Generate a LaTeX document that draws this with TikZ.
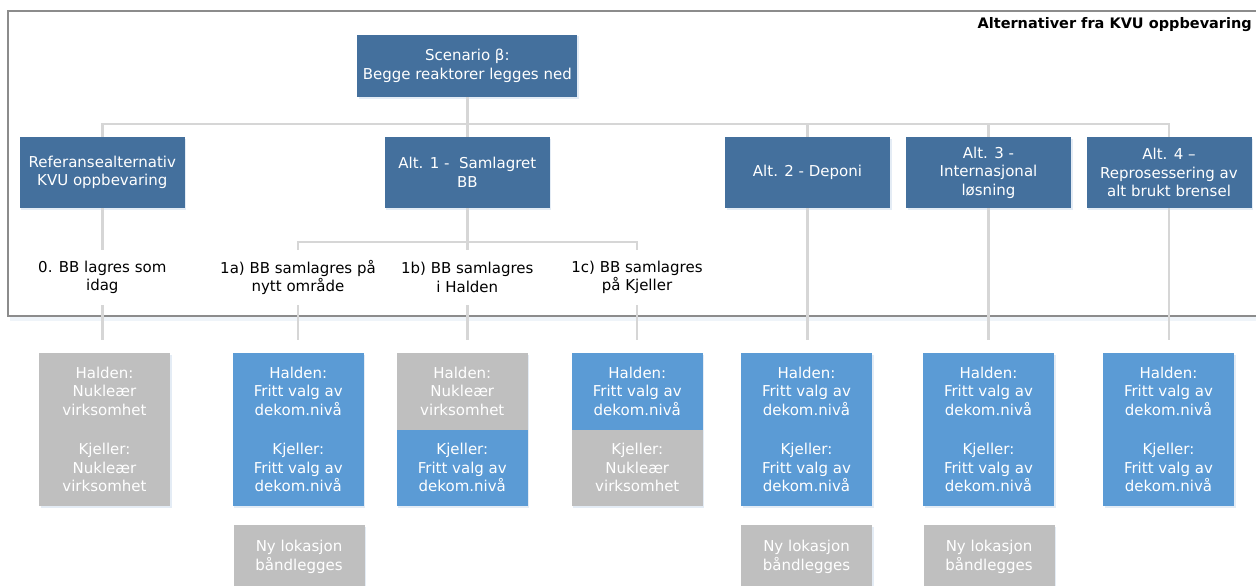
\documentclass[tikz,border=0pt]{standalone}
\usepackage{fontspec}
\setmainfont{DejaVu Sans}
\usetikzlibrary{shadows}
\definecolor{dkblue}{HTML}{44709D}
\definecolor{ltblue}{HTML}{5B9BD5}
\definecolor{grbox}{HTML}{BFBFBF}
\definecolor{connc}{HTML}{D6D6D6}
\definecolor{framec}{HTML}{8C8C8C}
\definecolor{shadc}{HTML}{E4ECF5}
\begin{document}
\begin{tikzpicture}[x=1pt,y=-1pt,
  base/.style={inner sep=0pt, align=center, text=white, font=\fontsize{15}{18.5}\selectfont,
    drop shadow={shadow xshift=1.5pt, shadow yshift=-1.5pt, fill=shadc, opacity=1}},
  dark/.style={base, fill=dkblue, minimum width=165pt, minimum height=71pt},
  scen/.style={base, fill=dkblue, minimum width=220pt, minimum height=62pt},
  half/.style={base, minimum width=131pt, minimum height=76.5pt},
  bl/.style={half, fill=ltblue},
  gr/.style={half, fill=grbox},
  ny/.style={base, fill=grbox, minimum width=131pt, minimum height=64pt},
  lbl/.style={inner sep=0pt, align=center, text=black, font=\fontsize{15}{18.5}\selectfont, minimum height=55pt},
  conn/.style={draw=connc, line width=2.5pt},
  title/.style={inner sep=0pt, font=\fontsize{14.5}{16}\selectfont\bfseries, text=black}
]
\useasboundingbox (0,0) rectangle (1256,586);
% frame
\fill[shadc!60] (10,317) rectangle (1260,321);
\draw[framec, line width=1.2pt, fill=white] (8,11) rectangle (1262,316);
\node[title, anchor=east] (ttl) at (1252,25) {Alternativer fra KVU oppbevaring};

% level 0
\node[scen] (sc) at (467.3,66) {Scenario β:\\Begge reaktorer legges ned};
% level 1
\node[dark] (ref) at (102.3,172.5) {Referansealternativ\\KVU oppbevaring};
\node[dark] (a1) at (467.3,172.5) {Alt. 1 -~ Samlagret\\BB};
\node[dark] (a2) at (807.5,172.5) {Alt. 2 - Deponi};
\node[dark] (a3) at (988.5,172.5) {Alt. 3 -\\Internasjonal\\løsning};
\node[dark] (a4) at (1169,172.5) {Alt. 4 –\\Reprosessering av\\alt brukt brensel};
% level 2
\node[lbl] (t0) at (102.3,277.5) {0. BB lagres som\\idag};
\node[lbl] (t1a) at (298,277.5) {1a) BB samlagres på\\nytt område};
\node[lbl] (t1b) at (467.3,277.5) {1b) BB samlagres\\i Halden};
\node[lbl] (t1c) at (637,277.5) {1c) BB samlagres\\på Kjeller};

% connectors level 0 -> 1
\draw[conn] (sc.south) -- ++(0,27) -| (ref.north);
\draw[conn] (sc.south) -- (a1.north);
\draw[conn] (sc.south) -- ++(0,27) -| (a2.north);
\draw[conn] (sc.south) -- ++(0,27) -| (a3.north);
\draw[conn] (sc.south) -- ++(0,27) -| (a4.north);
% level 1 -> 2
\draw[conn] (ref.south) -- (t0.north);
\draw[conn] (a1.south) -- ++(0,34) -| (t1a.north);
\draw[conn] (a1.south) -- (t1b.north);
\draw[conn] (a1.south) -- ++(0,34) -| (t1c.north);
% down to level 3
\draw[conn] (t0.south) -- ++(0,34.5);
\draw[conn] (t1a.south) -- ++(0,34.5);
\draw[conn] (t1b.south) -- ++(0,34.5);
\draw[conn] (t1c.south) -- ++(0,34.5);
\draw[conn] (a2.south) -- ++(0,131.5);
\draw[conn] (a3.south) -- ++(0,131.5);
\draw[conn] (a4.south) -- ++(0,131.5);

% level 3 boxes
\node[gr] (h0) at (104.5,391.25) {Halden:\\Nukleær\\virksomhet};
\node[gr] (k0) at (104.5,467.75) {Kjeller:\\Nukleær\\virksomhet};
\node[bl] (h1a) at (298.3,391.25) {Halden:\\Fritt valg av\\dekom.nivå};
\node[bl] (k1a) at (298.3,467.75) {Kjeller:\\Fritt valg av\\dekom.nivå};
\node[gr] (h1b) at (462.3,391.25) {Halden:\\Nukleær\\virksomhet};
\node[bl] (k1b) at (462.3,467.75) {Kjeller:\\Fritt valg av\\dekom.nivå};
\node[bl] (h1c) at (637.3,391.25) {Halden:\\Fritt valg av\\dekom.nivå};
\node[gr] (k1c) at (637.3,467.75) {Kjeller:\\Nukleær\\virksomhet};
\node[bl] (h2) at (806.5,391.25) {Halden:\\Fritt valg av\\dekom.nivå};
\node[bl] (k2) at (806.5,467.75) {Kjeller:\\Fritt valg av\\dekom.nivå};
\node[bl] (h3) at (988.5,391.25) {Halden:\\Fritt valg av\\dekom.nivå};
\node[bl] (k3) at (988.5,467.75) {Kjeller:\\Fritt valg av\\dekom.nivå};
\node[bl] (h4) at (1168.5,391.25) {Halden:\\Fritt valg av\\dekom.nivå};
\node[bl] (k4) at (1168.5,467.75) {Kjeller:\\Fritt valg av\\dekom.nivå};
% ny lokasjon
\node[ny] (n1a) at (299,557) {Ny lokasjon\\båndlegges};
\node[ny] (n2) at (806.5,557) {Ny lokasjon\\båndlegges};
\node[ny] (n3) at (989,557) {Ny lokasjon\\båndlegges};
\end{tikzpicture}
\end{document}
